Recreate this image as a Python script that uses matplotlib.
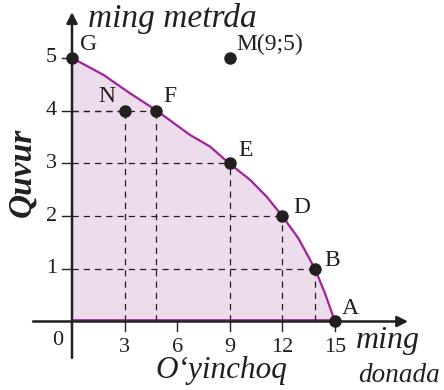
import matplotlib
matplotlib.use("Agg")
import matplotlib.pyplot as plt

# production possibilities curve (thousand pieces of toys vs thousand metres of pipe)
curve_x = [0, 1.79, 3.31, 4.79, 6.73, 7.87, 8.97, 10.15, 11.1, 12, 12.91, 13.86, 14.43, 15]
curve_y = [5, 4.68, 4.33, 4.01, 3.54, 3.32, 3.0, 2.69, 2.37, 2, 1.58, 1, 0.535, 0]

point_names = ["G", "N", "F", "E", "D", "B", "A"]
point_x = [0, 3, 4.8, 9, 12, 13.86, 15]
point_y = [5, 4, 4, 3, 2, 1, 0]

m_x, m_y = 9, 5

x_ticks = [3, 6, 9, 12, 15]
y_ticks = [1, 2, 3, 4, 5]

ink = "#231f20"
serif = "Liberation Serif"

fig = plt.figure(figsize=(4.44, 3.9), dpi=100)
ax = fig.add_axes([0, 0, 1, 1])
ax.set_xlim(-4.107, 21.22)
ax.set_ylim(-1.30, 6.10)
ax.axis("off")

# shaded region + frontier
ax.fill_between(curve_x, curve_y, 0, color="#ecdcec", lw=0, zorder=1)
ax.plot(curve_x, curve_y, color="#a3219b", lw=1.6, zorder=3,
        solid_joinstyle="round")
ax.plot([0, 15], [0.02, 0.02], color="#a3219b", lw=1.2, zorder=2)

# dashed guide lines
for name, px, py in zip(point_names, point_x, point_y):
    if name in ("G", "A"):
        continue
    ax.plot([0, px], [py, py], ls=(0, (5, 4)), color=ink, lw=0.9, zorder=2)
    ax.plot([px, px], [0, py], ls=(0, (5, 4)), color=ink, lw=0.9, zorder=2)

# axes with arrows
ax.annotate("", xy=(19.17, 0), xytext=(-2.22, 0),
            arrowprops=dict(arrowstyle="-|>", color=ink, lw=1.8,
                            mutation_scale=16, shrinkA=0, shrinkB=0), zorder=4)
ax.annotate("", xy=(0, 5.87), xytext=(0, -0.69),
            arrowprops=dict(arrowstyle="-|>", color=ink, lw=1.8,
                            mutation_scale=16, shrinkA=0, shrinkB=0), zorder=4)

# ticks
for t in x_ticks:
    ax.plot([t, t], [0, -0.19], color=ink, lw=1.0, zorder=4)
    ax.text(t, -0.5, str(t), ha="center", va="center", fontsize=16,
            family=serif, color=ink)
for t in y_ticks:
    ax.plot([-0.57, 0], [t, t], color=ink, lw=1.0, zorder=4)
    ax.text(-0.86, t, str(t), ha="right", va="center", fontsize=16,
            family=serif, color=ink)
ax.text(-0.8, -0.37, "0", ha="center", va="center", fontsize=16,
        family=serif, color=ink)

# points
ax.plot(point_x, point_y, "o", color=ink, ms=8, zorder=5, clip_on=False)
ax.plot([m_x], [m_y], "o", color=ink, ms=8, zorder=5)

label_pos = {"G": (0.46, 5.26), "N": (1.5, 4.27), "F": (5.19, 4.27),
             "E": (9.47, 3.24), "D": (12.6, 2.17), "B": (14.38, 1.15),
             "A": (15.4, 0.24)}
for name in point_names:
    lx, ly = label_pos[name]
    ax.text(lx, ly, name, ha="left", va="center", fontsize=17,
            family=serif, color=ink)
ax.text(9.36, 5.26, "M(9;5)", ha="left", va="center", fontsize=17,
        family=serif, color=ink)

# axis titles
ax.text(0.91, 5.59, "ming metrda", ha="left", va="baseline", fontsize=24,
        family=serif, style="italic", color=ink)
ax.text(-2.85, 2.82, "Quvur", ha="center", va="center", fontsize=24,
        family=serif, style="italic", weight="bold", rotation=90, color=ink)
ax.text(8.5, -0.93, "O\u2018yinchoq", ha="center", va="center", fontsize=22.5,
        family=serif, style="italic", color=ink)
ax.text(16.2, -0.37, "ming", ha="left", va="center", fontsize=23,
        family=serif, style="italic", color=ink)
ax.text(16.3, -1.02, "donada", ha="left", va="center", fontsize=19.5,
        family=serif, style="italic", color=ink)

fig.savefig("out.png", dpi=100)
